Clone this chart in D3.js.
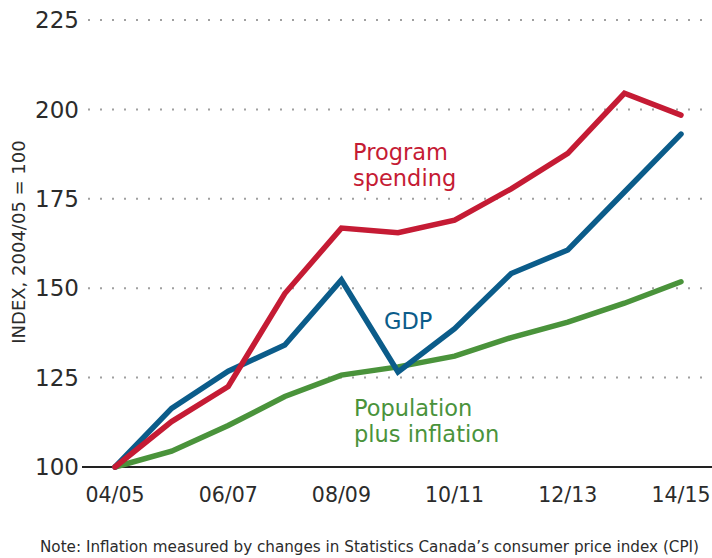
<!DOCTYPE html>
<html>
<head>
<meta charset="utf-8">
<script src="https://cdn.jsdelivr.net/npm/d3@7"></script>
<style>
	body { margin: 0; background: #fff; }
	svg { display: block; font-family: "DejaVu Sans", sans-serif; }
	.tick-label { fill: #2b2b2b; }
</style>
</head>
<body>
<svg width="712" height="558"></svg>
<script>
// fiscal years
var years = ["04/05", "05/06", "06/07", "07/08", "08/09", "09/10", "10/11", "11/12", "12/13", "13/14", "14/15"];
var tickYears = ["04/05", "06/07", "08/09", "10/11", "12/13", "14/15"];
var yTicks = [100, 125, 150, 175, 200, 225];

// index values, 2004/05 = 100
var programSpending = [100, 112.7, 122.5, 148.5, 166.8, 165.5, 169.0, 177.8, 187.7, 204.5, 198.4];
var gdp = [100, 116.4, 126.8, 134.1, 152.3, 126.6, 138.7, 154.1, 160.7, 176.9, 193.1];
var popInflation = [100, 104.4, 111.6, 119.7, 125.7, 128.0, 131.0, 136.2, 140.5, 145.8, 151.8];

var svg = d3.select("svg");

var x = d3.scalePoint()
	.domain(years)
	.range([115, 681]);

var y = d3.scaleLinear()
	.domain([100, 225])
	.range([467, 20]);

// dotted gridlines
svg.append("g")
	.selectAll("line")
	.data(yTicks.filter(function (d) { return d > 100; }))
	.enter().append("line")
	.attr("x1", 88)
	.attr("x2", 712)
	.attr("y1", function (d) { return y(d); })
	.attr("y2", function (d) { return y(d); })
	.attr("stroke", "#a0a0a0")
	.attr("stroke-width", 2)
	.attr("stroke-dasharray", "2,10");

// baseline
svg.append("line")
	.attr("x1", 82)
	.attr("x2", 712)
	.attr("y1", y(100))
	.attr("y2", y(100))
	.attr("stroke", "#222")
	.attr("stroke-width", 1.8);

// y tick labels
svg.append("g")
	.selectAll("text")
	.data(yTicks)
	.enter().append("text")
	.attr("class", "tick-label")
	.attr("x", 79)
	.attr("y", function (d) { return y(d); })
	.attr("dy", "0.36em")
	.attr("text-anchor", "end")
	.style("font-size", "23px")
	.text(function (d) { return d; });

// x tick labels
svg.append("g")
	.selectAll("text")
	.data(tickYears)
	.enter().append("text")
	.attr("class", "tick-label")
	.attr("x", function (d) { return x(d); })
	.attr("y", 502)
	.attr("text-anchor", "middle")
	.style("font-size", "20.5px")
	.text(function (d) { return d; });

// y axis title
svg.append("text")
	.attr("transform", "translate(25," + 242 + ") rotate(-90)")
	.attr("text-anchor", "middle")
	.attr("fill", "#2b2b2b")
	.style("font-size", "18px")
	.text("INDEX, 2004/05 = 100");

var line = d3.line()
	.x(function (d, i) { return x(years[i]); })
	.y(function (d) { return y(d); });

var series = [
	{ values: popInflation, color: "#4a933b" },
	{ values: gdp, color: "#0b5c8a" },
	{ values: programSpending, color: "#c51b34" }
];

svg.append("g")
	.selectAll("path")
	.data(series)
	.enter().append("path")
	.attr("d", function (d) { return line(d.values); })
	.attr("fill", "none")
	.attr("stroke", function (d) { return d.color; })
	.attr("stroke-width", 5.5)
	.attr("stroke-linejoin", "miter")
	.attr("stroke-linecap", "round");

// series labels
function label(lines, xPos, yPos, color) {
	var t = svg.append("text")
		.attr("fill", color)
		.style("font-size", "22.5px");
	lines.forEach(function (s, i) {
		t.append("tspan")
			.attr("x", xPos)
			.attr("y", yPos + i * 26)
			.text(s);
	});
}
label(["Program", "spending"], 353, 160, "#c51b34");
label(["GDP"], 384, 329, "#0b5c8a");
label(["Population", "plus inflation"], 354, 416, "#4a933b");

// note
svg.append("text")
	.attr("x", 40)
	.attr("y", 552)
	.attr("fill", "#2b2b2b")
	.style("font-size", "15.2px")
	.text("Note: Inflation measured by changes in Statistics Canada\u2019s consumer price index (CPI)");
</script>
</body>
</html>
